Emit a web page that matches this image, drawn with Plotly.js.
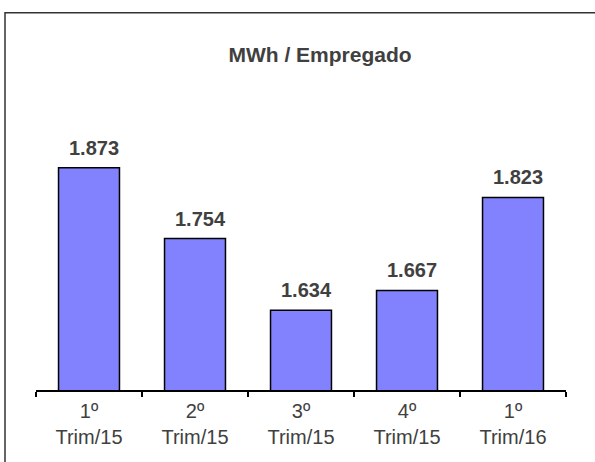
<!DOCTYPE html>
<html>
<head>
<meta charset="utf-8">
<script src="https://cdn.plot.ly/plotly-3.0.1.min.js"></script>
<style>html,body{margin:0;padding:0;background:#fff;}#chart{width:595px;height:462px;}</style>
</head>
<body>
<div id="chart"></div>
<script>
var categories = ["1º<br>Trim/15", "2º<br>Trim/15", "3º<br>Trim/15", "4º<br>Trim/15", "1º<br>Trim/16"];
var values = [1873, 1754, 1634, 1667, 1823];
var chartTitle = "MWh / Empregado";

var textColor = "#404040";
var fontFamily = "Liberation Sans, Arial, sans-serif";

var trace = {
  type: "bar",
  x: categories,
  y: values,
  marker: {color: "#8282FF", line: {color: "#000000", width: 1.5}},
  hoverinfo: "none"
};

var annotations = values.map(function(v, i) {
  return {
    x: categories[i], y: v, xref: "x", yref: "y",
    text: v.toLocaleString("de-DE"),
    showarrow: false, yanchor: "bottom", xanchor: "center",
    xshift: 5, yshift: 7,
    font: {family: fontFamily, size: 20, color: textColor, weight: "bold"}
  };
});

// outer frame (partially cut by the picture edges)
var pl = 36, pw = 530, pb = 390, ph = 298.5;
function px2x(p){ return (p - pl) / pw; }
function py2y(p){ return (pb - p) / ph; }

var layout = {
  width: 595, height: 462,
  margin: {l: 36, r: 29, t: 91.5, b: 72, pad: 0},
  paper_bgcolor: "#ffffff", plot_bgcolor: "#ffffff",
  separators: ",.",
  showlegend: false,
  bargap: 0.425,
  title: {
    text: "<b>" + chartTitle + "</b>",
    font: {family: fontFamily, size: 21, color: textColor},
    x: 320 / 595, xanchor: "center", xref: "container",
    y: 1 - 55 / 462, yanchor: "middle", yref: "container"
  },
  xaxis: {
    type: "category",
    range: [-0.5, 4.5],
    showline: true, linecolor: "#000000", linewidth: 1.5,
    ticks: "outside", tickson: "boundaries", ticklen: 5, tickcolor: "#000000", tickwidth: 1.5,
    ticklabelstandoff: 2,
    tickfont: {family: fontFamily, size: 20, color: textColor},
    showgrid: false, zeroline: false, fixedrange: true
  },
  yaxis: {
    range: [1500, 2000],
    showline: false, showgrid: false, zeroline: false, showticklabels: false, ticks: "",
    fixedrange: true
  },
  annotations: annotations,
  shapes: [{
    type: "rect", xref: "paper", yref: "paper",
    x0: px2x(5), x1: px2x(620), y0: py2y(490), y1: py2y(12),
    line: {color: "#333333", width: 1.5}, fillcolor: "rgba(0,0,0,0)", layer: "below"
  }]
};

Plotly.newPlot("chart", [trace], layout, {displayModeBar: false, staticPlot: true});
</script>
</body>
</html>
